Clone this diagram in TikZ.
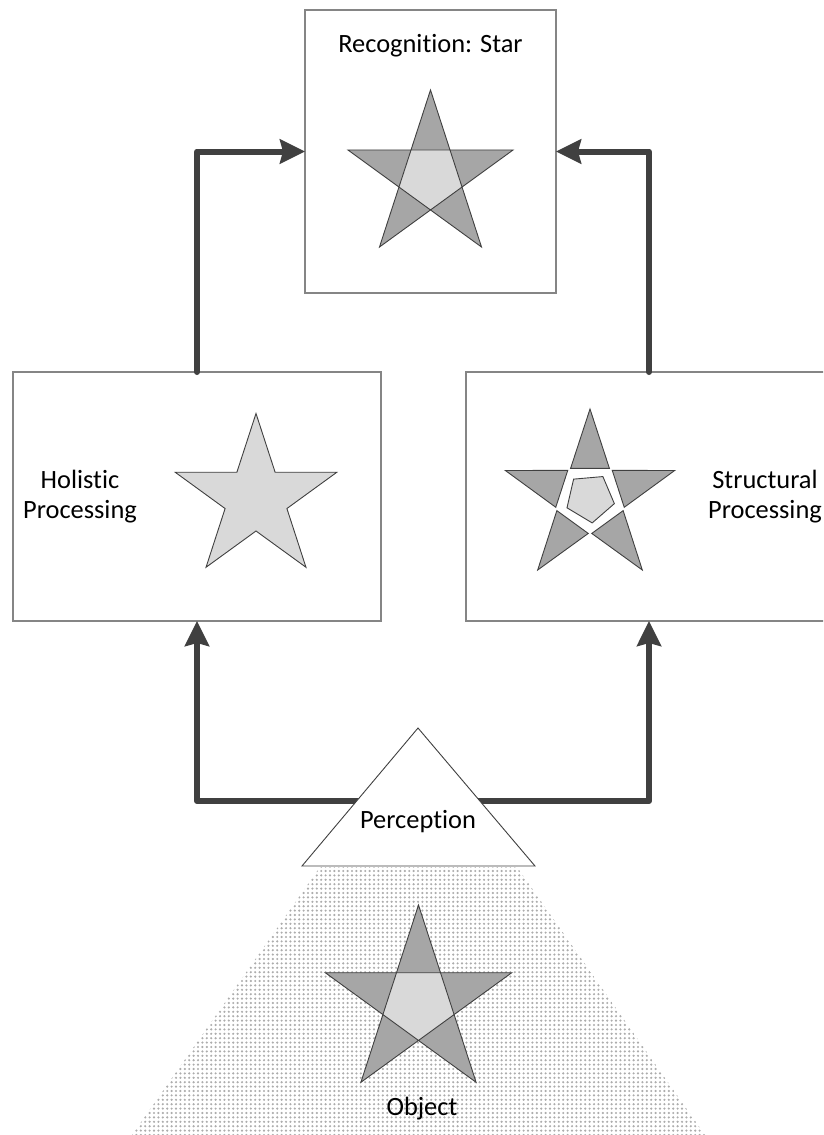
\documentclass[tikz,border=0pt]{standalone}
\usepackage{fontspec}
\setmainfont{Carlito}[Ligatures=NoCommon]
\usetikzlibrary{arrows.meta}
\usetikzlibrary{patterns.meta}
\definecolor{starDark}{HTML}{A6A6A6}
\definecolor{starLight}{HTML}{D9D9D9}
\definecolor{flowGray}{HTML}{404040}
\definecolor{panelGray}{HTML}{858585}
\tikzset{
  panel/.style={draw=panelGray, line width=1.3pt, fill=white, inner sep=0pt, outer sep=0pt},
  flow/.style={draw=flowGray, line width=6pt, line cap=round, line join=round,
    -{Stealth[length=25pt, width=24pt, inset=3pt]}},
  caption/.style={font=\fontsize{26.4}{30}\selectfont, inner sep=0pt, align=center},
  star edge/.style={draw=flowGray, line width=0.9pt, line join=miter},
}
% pentagram with light inner pentagon: centre x, centre y, radius
\newcommand{\fullstar}[3]{%
  \begin{scope}[shift={(#1,#2)}, yscale=-1]
    \fill[starDark] (90:#3) \foreach \k in {0,...,4} {
      -- ({126+72*\k}:{0.382*#3}) -- ({162+72*\k}:#3)} -- cycle;
    \fill[starLight] (54:{0.382*#3}) \foreach \k in {1,...,4} {
      -- ({54+72*\k}:{0.382*#3})} -- cycle;
    \draw[star edge] (90:#3) -- (234:#3) -- (18:#3) -- (162:#3) -- (306:#3) -- cycle;
  \end{scope}}

\begin{document}
\begin{tikzpicture}[x=1pt, y=-1pt]

  \useasboundingbox (0,0) rectangle (823,1135);
  \clip (0,0) rectangle (823,1135);

  % Field of view
  \fill[pattern={Dots[distance=4.4pt, radius=1.2pt]}, pattern color=gray!65]
    (320,867) -- (517,867) -- (712,1145) -- (125,1145) -- cycle;
  \fullstar{418.5}{1003}{98}
  \node[caption, anchor=base] (obj) at (422,1115) {Object};

  % Panels
  \node[panel, minimum width=251pt, minimum height=283pt] (rec) at (430.5,151.5) {};
  \node[panel, minimum width=368pt, minimum height=249pt] (holi) at (197,496.5) {};
  \node[panel, minimum width=366pt, minimum height=249pt] (stru) at (649,496.5) {};

  \node[caption, anchor=base] (recT) at (430.5,52) {Recognition: Star};
  \node[caption] (holiT) at (80,497) {Holistic\\Processing};
  \node[caption] (struT) at (765,497) {Structural\\Processing};

  % Stars
  \fullstar{430.5}{176.8}{86.8}
  \begin{scope}[shift={(256,498.5)}, yscale=-1]
    \path[fill=starLight, star edge] (90:85) \foreach \k in {0,...,4} {
      -- ({126+72*\k}:32.5) -- ({162+72*\k}:85)} -- cycle;
  \end{scope}
  \begin{scope}[shift={(590,498)}, yscale=-1]
    \foreach \k in {0,...,4} {
      \path[fill=starDark, star edge, shift={({90+72*\k}:3)}]
        ({90+72*\k}:86) -- ({126+72*\k}:33) -- ({54+72*\k}:33) -- cycle;
    }
    \path[fill=starLight, star edge, rotate=-5]
      (54:25) -- (126:25) -- (198:25) -- (270:25) -- (342:25) -- cycle;
  \end{scope}

  % Connect
  \coordinate (tapL) at (400,801);
  \coordinate (tapR) at (437,801);
  \draw[flow] (tapL) -| (holi.south);
  \draw[flow] (tapR) -| (stru.south);
  \draw[flow] (holi.north) |- (rec.west);
  \draw[flow] (stru.north) |- (rec.east);

  % Perception
  \draw[draw=flowGray, line width=0.9pt, fill=white]
    (418,728) -- (535,866) -- (302,866) -- cycle;
  \node[caption, anchor=base] (perc) at (418,828) {Perception};

\end{tikzpicture}
\end{document}
